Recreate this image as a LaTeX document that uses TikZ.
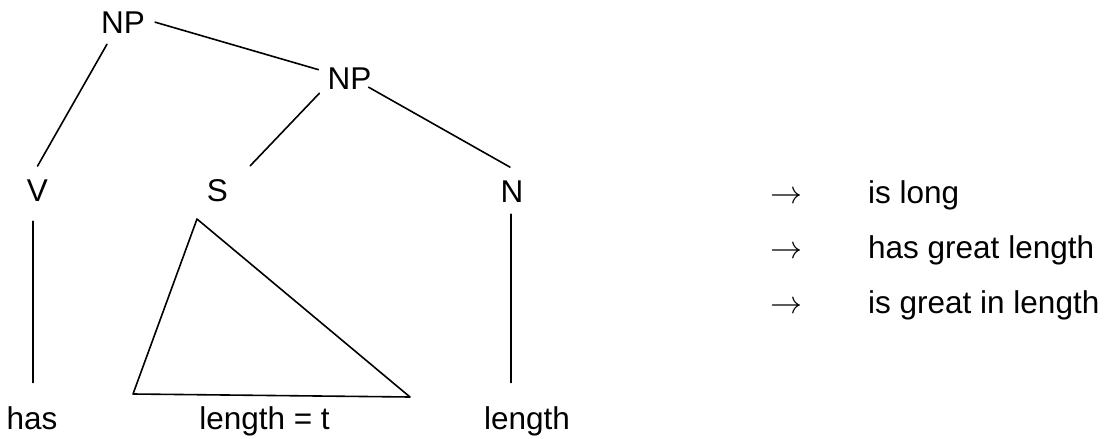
\documentclass[tikz,border=0pt]{standalone}
\usepackage{fix-cm}
\usepackage{fontspec}
\setmainfont{Liberation Sans}
\begin{document}
\begin{tikzpicture}[x=1pt,y=-1pt,
  lbl/.style={anchor=base,inner sep=0pt,font=\fontsize{31.5}{36}\selectfont},
  rlbl/.style={lbl,anchor=base west},
  arr/.style={anchor=base,inner sep=0pt,font=\fontsize{32}{36}\selectfont},
  edge/.style={line width=1.6pt,line cap=round},
  ]
\useasboundingbox (0,0) rectangle (1106,439);
% tree labels
\node[lbl] (np1) at (123,33) {NP};
\node[lbl] (np2) at (349.5,89) {NP};
\node[lbl] (v) at (37.5,201) {V};
\node[lbl] (s) at (217.5,201) {S};
\node[lbl] (n) at (512,202) {N};
\node[lbl] (has) at (32,429) {has};
\node[lbl] (lt) at (264.5,429) {length = t};
\node[lbl] (len) at (527,429) {length};
% branches
\draw[edge] ([shift={(-16,11)}]np1.south) -- ([shift={(0,-13)}]v.north);
\draw[edge] ([shift={(10,0)}]np1.east) -- ([shift={(-9,-8.5)}]np2.west);
\draw[edge] ([shift={(-8,4)}]np2.south west) -- ([shift={(22,-13)}]s.north east);
\draw[edge] ([shift={(-3,-2)}]np2.south east) -- ([shift={(-2,-13)}]n.north);
\draw[edge] ([shift={(-4.5,20)}]v.south) -- ([shift={(1,-23.4)}]has.north);
\draw[edge] ([shift={(-1,12)}]n.south) -- ([shift={(-16,-23.4)}]len.north);
% triangle under S
\draw[edge,line join=round] (197,219) -- (133,394) -- (410,397) -- cycle;
% right column
\node[arr] (a1) at (786,203) {$\rightarrow$};
\node[arr] (a2) at (786,258) {$\rightarrow$};
\node[arr] (a3) at (786,313) {$\rightarrow$};
\node[rlbl] (t1) at (868,203) {is long};
\node[rlbl] (t2) at (868,258) {has great length};
\node[rlbl] (t3) at (868,313) {is great in length};
\end{tikzpicture}
\end{document}
